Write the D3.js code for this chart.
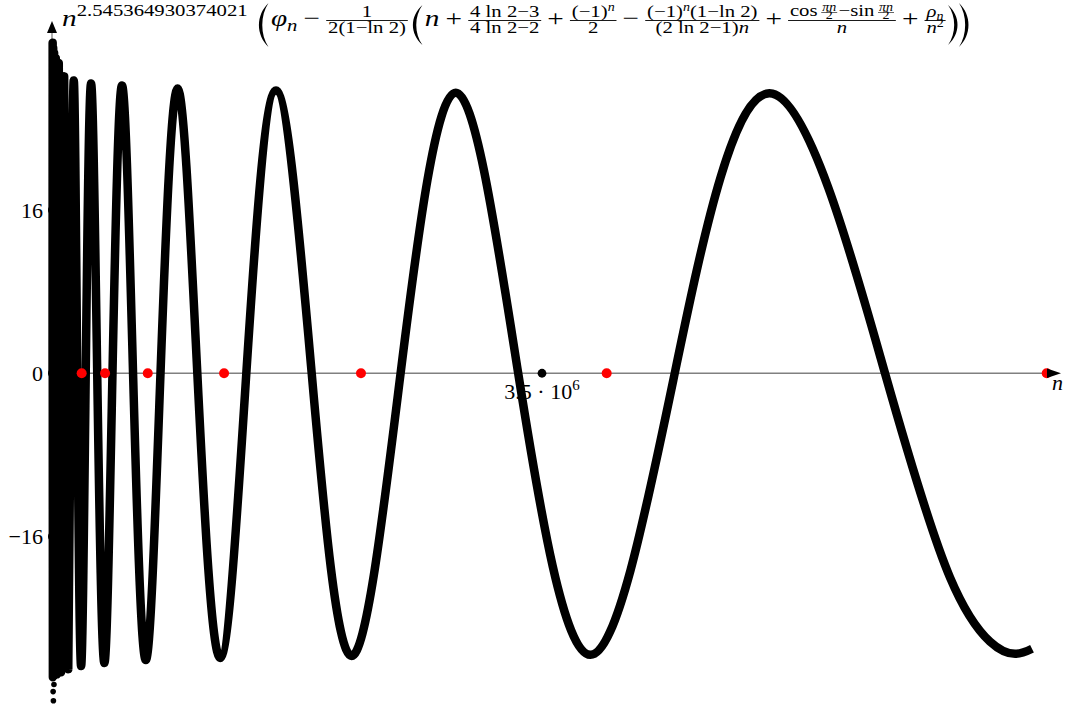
<!DOCTYPE html>
<html>
<head>
<meta charset="utf-8">
<script src="https://cdn.jsdelivr.net/npm/d3@7"></script>
<style>
  html, body { margin: 0; padding: 0; background: #fff; overflow: hidden; }
  svg { display: block; }
</style>
</head>
<body>
<svg id="chart" width="1065" height="709"></svg>
<script>
// Sequence samples: n (in millions) and the scaled value at that n.
const nMillions = [0.0040, 0.0047, 0.0054, 0.0063, 0.0072, 0.0084, 0.0097, 0.0112, 0.0130, 0.0150,
  0.0174, 0.0201, 0.0232, 0.0269, 0.0311, 0.0360, 0.0417, 0.0483, 0.0559, 0.0647,
  0.0749, 0.0867, 0.1003, 0.1161, 0.1344, 0.1556, 0.1800, 0.2080, 0.2410, 0.2790,
  0.3230, 0.3740, 0.4320, 0.5000, 0.5790, 0.6700, 0.7750, 0.8970, 1.0380, 1.2010,
  1.3880, 1.6000, 1.8550, 2.1400, 2.4900, 2.8840, 3.3300, 3.8450, 4.4480, 5.1460,
  5.9500, 6.4140, 6.7000, 6.8800, 7.0000];
const values = [0, 32.4, 0, -29.8, 0, 31.9, 0, -29.7, 0, 31.4,
  0, -29.6, 0, 30.9, 0, -29.5, 0, 30.4, 0, -29.3,
  0, 29.1, 0, -29.0, 0, 28.7, 0, -28.7, 0, 28.4,
  0, -28.4, 0, 28.2, 0, -28.1, 0, 27.9, 0, -27.9,
  0, 27.7, 0, -27.7, 0, 27.5, 0, -27.6, 0, 27.4,
  0, -20.0, -26.3, -27.5, -27.0];

// Isolated low samples at the very start of the sequence.
const strayN = [0.014, 0.008, 0.010];
const strayV = [-30.5, -31.2, -32.1];

// Marked points on the n-axis (millions).
const markerN = [0.212, 0.379, 0.684, 1.229, 2.207, 3.962, 7.105];

// Axis ticks.
const yTickValues = [-16, 0, 16];
const yTickLabels = ["\u221216", "0", "16"];
const xTickValue = 3.5;          // millions
const xTickMantissa = "3.5 \u00b7 10";
const xTickPower = "6";
const exponentText = "2.545364930374021";

const FONT = "'Liberation Serif', 'DejaVu Serif', serif";
const svg = d3.select("#chart").attr("font-family", FONT);

const x = d3.scaleLinear().domain([0, xTickValue]).range([52, 542]);
const y = d3.scaleLinear().domain([-16, 16]).range([536.5, 210]);
const x0 = x(0), y0 = y(0);

// Axis lines
svg.append("line").attr("x1", x0).attr("x2", 1050).attr("y1", y0).attr("y2", y0)
  .attr("stroke", "#808080").attr("stroke-width", 1.3);
svg.append("line").attr("x1", x0).attr("x2", x0).attr("y1", 680).attr("y2", 30)
  .attr("stroke", "#808080").attr("stroke-width", 1.3);

// The sequence curve
const pts = nMillions.map((n, i) => [n, values[i]]);
const line = d3.line().x(d => x(d[0])).y(d => y(d[1])).curve(d3.curveNatural);
svg.append("path").attr("d", line(pts)).attr("fill", "none")
  .attr("stroke", "#000").attr("stroke-width", 8.5)
  .attr("stroke-linejoin", "round").attr("stroke-linecap", "butt");

svg.append("g").selectAll("circle").data(strayN).join("circle")
  .attr("cx", d => x(d)).attr("cy", (d, i) => y(strayV[i])).attr("r", 2.8).attr("fill", "#000");

// Markers on the n-axis
svg.append("g").selectAll("circle").data(markerN).join("circle")
  .attr("cx", d => x(d)).attr("cy", y0).attr("r", 5).attr("fill", "#ff0000");

// Tick dots
svg.append("g").selectAll("circle").data(yTickValues).join("circle")
  .attr("cx", x0).attr("cy", d => y(d)).attr("r", 4).attr("fill", "#000");
svg.append("circle").attr("cx", x(xTickValue)).attr("cy", y0).attr("r", 4.4).attr("fill", "#000");

// y tick labels
const yAxis = d3.axisLeft(y).tickValues(yTickValues).tickSize(0).tickPadding(9)
  .tickFormat((d, i) => yTickLabels[i]);
svg.append("g").attr("transform", `translate(${x0},0)`).call(yAxis)
  .attr("font-family", FONT).attr("font-size", 22)
  .call(g => g.select(".domain").remove())
  .selectAll("text").attr("fill", "#000");

// x tick label
const xl = svg.append("text").attr("x", x(xTickValue)).attr("y", 399)
  .attr("text-anchor", "middle").attr("font-size", 22).attr("fill", "#000");
xl.append("tspan").text(xTickMantissa);
xl.append("tspan").attr("dy", -9).attr("font-size", 15).text(xTickPower);

// Arrowheads and axis name
svg.append("path").attr("d", `M1061,${y0} L1047,${y0 - 4.8} L1047,${y0 + 4.8} Z`).attr("fill", "#000");
svg.append("path").attr("d", `M${x0},21 L${x0 - 5},33 L${x0 + 5},33 Z`).attr("fill", "#000");
svg.append("text").attr("x", 1052).attr("y", 390).attr("font-size", 22)
  .attr("font-style", "italic").attr("fill", "#000").text("n");

// ---- formula typesetting ----
const M = 24, S = 17, SS = 11.5, AXIS = 5.5, PAREN_MID = -1;
const T = (text, size, it, dy) => ({ t: "s", text, size, it: !!it, dy: dy || 0 });
const G = w => ({ t: "gap", w });
const R = (...items) => ({ t: "row", items });
const F = (num, den, o) => Object.assign({ t: "frac", num, den, axis: AXIS, up: 4, down: 12.5, bar: 0.9, pad: 1.5 }, o || {});
const P = (side, h) => ({ t: "paren", side, h, w: 9 });
const smallFrac = (a, b) => F(R(T(a, SS, true)), R(T(b, SS)), { axis: 3, up: 1.3, down: 6.6, bar: 0.6, pad: 0.8 });

function drawSpec(g, s) {
  if (s.t === "s") {
    const t = g.append("text").attr("y", s.dy).attr("font-size", s.size)
      .attr("font-style", s.it ? "italic" : null).attr("fill", "#000").text(s.text);
    return t.node().getComputedTextLength();
  }
  if (s.t === "gap") return s.w;
  if (s.t === "row") {
    let cx = 0;
    s.items.forEach(c => {
      const cg = g.append("g").attr("transform", `translate(${cx},0)`);
      cx += drawSpec(cg, c);
    });
    return cx;
  }
  if (s.t === "frac") {
    const ng = g.append("g"), dg = g.append("g");
    const wn = drawSpec(ng, s.num), wd = drawSpec(dg, s.den);
    const w = Math.max(wn, wd) + 2 * s.pad;
    ng.attr("transform", `translate(${(w - wn) / 2},${-s.axis - s.up})`);
    dg.attr("transform", `translate(${(w - wd) / 2},${-s.axis + s.down})`);
    g.append("rect").attr("x", 0).attr("y", -s.axis - s.bar / 2)
      .attr("width", w).attr("height", s.bar).attr("fill", "#000");
    return w;
  }
  if (s.t === "paren") {
    const w = s.w, h = s.h, top = PAREN_MID - h / 2, bot = PAREN_MID + h / 2;
    const o = -0.15 * w, i = 0.25 * w;
    const d = `M${w},${top} C${o},${top + h * 0.28} ${o},${bot - h * 0.28} ${w},${bot} ` +
              `C${i},${bot - h * 0.28} ${i},${top + h * 0.28} ${w},${top} Z`;
    const p = g.append("path").attr("d", d).attr("fill", "#000");
    if (s.side === ")") p.attr("transform", `translate(${w},0) scale(-1,1)`);
    return w;
  }
  return 0;
}

const formula = R(
  T("n", M, true),
  T(exponentText, S, false, -10.5),
  G(8), P("(", 44), G(2),
  T("\u03c6", M, true), T("n", S, true, 4.5),
  G(5), T("\u2212", M), G(5),
  F(R(T("1", S)), R(T("2(1\u2212ln 2)", S))),
  G(3), P("(", 40), G(2),
  T("n", M, true), G(5), T("+", M), G(5),
  F(R(T("4 ln 2\u22123", S)), R(T("4 ln 2\u22122", S))),
  G(5), T("+", M), G(5),
  F(R(T("(\u22121)", S), T("n", SS, true, -6)), R(T("2", S))),
  G(5), T("\u2212", M), G(5),
  F(R(T("(\u22121)", S), T("n", SS, true, -6), T("(1\u2212ln 2)", S)),
    R(T("(2 ln 2\u22121)", S), T("n", S, true))),
  G(5), T("+", M), G(5),
  F(R(T("cos", S), G(3), smallFrac("\u03c0n", "2"), G(1), T("\u2212sin", S), G(3), smallFrac("\u03c0n", "2")),
    R(T("n", S, true)), { up: 5 }),
  G(5), T("+", M), G(5),
  F(R(T("\u03c1", S, true), T("n", SS, true, 3.5)), R(T("n", S, true), T("2", SS, false, -6))),
  G(2), P(")", 40), P(")", 44)
);

const titleG = svg.append("g");
const inner = titleG.append("g");
const totalW = drawSpec(inner, formula);
const k = (970 - 62) / totalW;
titleG.attr("transform", `translate(62,26) scale(${k},1)`);
</script>
</body>
</html>
